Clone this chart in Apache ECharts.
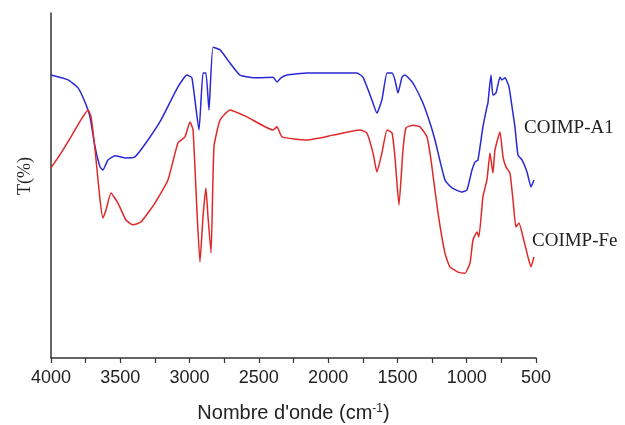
<!DOCTYPE html>
<html>
<head>
<meta charset="utf-8">
<script src="https://cdn.jsdelivr.net/npm/echarts@6/dist/echarts.min.js"></script>
<style>
  html, body { margin: 0; padding: 0; background: #fff; }
  #chart { width: 625px; height: 425px; }
</style>
</head>
<body>
<div id="chart"></div>
<script>
// wavenumber (cm-1) and transmittance (arbitrary %)
const wavenumbersA1 = [4000, 3877, 3805, 3755, 3719, 3682, 3646, 3625, 3589, 3538, 3466, 3394, 3300, 3206, 3084, 3019, 2983, 2932, 2903, 2882, 2860, 2831, 2780, 2708, 2636, 2513, 2398, 2369, 2340, 2297, 2153, 1915, 1792, 1749, 1684, 1648, 1612, 1575, 1539, 1518, 1496, 1467, 1446, 1388, 1316, 1265, 1229, 1157, 1106, 1034, 998, 962, 940, 919, 883, 854, 847, 825, 811, 789, 760, 746, 724, 695, 673, 652, 630, 601, 565, 536, 515];
const transA1 = [82.0, 80.6, 78.3, 74.2, 69.9, 61.2, 55.4, 54.5, 57.4, 58.6, 58.0, 58.3, 63.2, 69.0, 78.6, 82.0, 81.2, 66.1, 82.6, 82.6, 71.9, 90.1, 89.3, 85.5, 82.0, 81.2, 81.4, 80.0, 81.2, 82.0, 82.6, 82.6, 82.6, 81.4, 74.8, 71.0, 74.8, 82.6, 82.6, 80.6, 76.8, 81.4, 82.0, 79.7, 73.9, 68.1, 63.2, 51.6, 49.3, 48.1, 48.7, 54.5, 56.8, 57.4, 67.0, 72.8, 73.9, 82.0, 76.2, 76.8, 81.4, 80.6, 81.2, 78.6, 72.8, 67.0, 58.8, 57.4, 53.9, 49.6, 51.6];

const wavenumbersFe = [4000, 3928, 3856, 3784, 3733, 3711, 3682, 3646, 3625, 3603, 3567, 3517, 3459, 3408, 3351, 3250, 3156, 3084, 3033, 2997, 2975, 2946, 2925, 2903, 2882, 2867, 2845, 2824, 2780, 2708, 2586, 2398, 2369, 2333, 2153, 1965, 1770, 1720, 1676, 1648, 1612, 1575, 1539, 1518, 1489, 1460, 1438, 1388, 1337, 1287, 1265, 1251, 1207, 1157, 1121, 1063, 1013, 976, 955, 926, 912, 883, 854, 832, 811, 796, 760, 738, 717, 688, 666, 645, 623, 594, 558, 536, 515];
const transFe = [55.1, 59.4, 64.1, 69.0, 71.9, 69.9, 60.3, 45.8, 40.6, 42.9, 47.8, 44.9, 40.0, 38.6, 39.4, 44.9, 51.6, 62.3, 64.1, 68.4, 66.1, 42.0, 27.8, 40.9, 49.3, 40.9, 30.4, 61.2, 69.0, 71.9, 69.9, 66.1, 67.0, 64.1, 63.2, 64.6, 66.1, 65.2, 59.4, 53.9, 59.4, 66.1, 65.2, 58.3, 44.3, 60.3, 66.7, 67.5, 67.0, 64.1, 59.4, 55.4, 42.0, 30.4, 26.4, 24.9, 24.6, 27.5, 34.2, 36.5, 35.1, 46.7, 51.6, 59.4, 53.6, 60.3, 65.5, 58.3, 55.4, 53.6, 45.8, 38.0, 39.1, 35.1, 29.3, 26.4, 29.3];

const seriesNames = ['COIMP-A1', 'COIMP-Fe'];
const xTicks = [4000, 3500, 3000, 2500, 2000, 1500, 1000, 500];

const pairs = (xs, ys) => xs.map((x, i) => [x, ys[i]]);

const chart = echarts.init(document.getElementById('chart'), null, { renderer: 'canvas' });

const tickStyle = { color: '#333', width: 1.2 };
const labelFont = { fontFamily: 'Liberation Serif', fontSize: 19, fill: '#222' };

chart.setOption({
  backgroundColor: '#fff',
  animation: false,
  grid: { left: 51, right: 89, top: 13, bottom: 67, outerBoundsMode: 'none' },
  xAxis: {
    type: 'value',
    inverse: true,
    min: xTicks[xTicks.length - 1],
    max: xTicks[0],
    interval: 500,
    axisLine: { lineStyle: { color: '#333', width: 1.5 } },
    axisTick: { length: 5, lineStyle: tickStyle },
    minorTick: { show: true, splitNumber: 2, length: 5, lineStyle: tickStyle },
    splitLine: { show: false },
    axisLabel: {
      fontFamily: 'Liberation Sans', fontSize: 18, color: '#222', margin: 11,
      formatter: v => String(v)
    },
    name: "Nombre d'onde (cm{sup|-1})",
    nameLocation: 'middle',
    nameGap: 45,
    nameTextStyle: {
      fontFamily: 'Liberation Sans', fontSize: 20, color: '#222',
      rich: { sup: { fontFamily: 'Liberation Sans', fontSize: 12, verticalAlign: 'top', padding: [0, 0, 9, 0], color: '#222' } }
    }
  },
  yAxis: {
    type: 'value',
    min: 0,
    max: 100,
    axisLine: { show: true, lineStyle: { color: '#333', width: 1.5 } },
    axisTick: { show: false },
    axisLabel: { show: false },
    splitLine: { show: false }
  },
  graphic: [
    {
      type: 'text', x: 25, y: 176, rotation: Math.PI / 2,
      style: Object.assign({ text: 'T(%)', textAlign: 'center', textVerticalAlign: 'middle' }, labelFont, { fontSize: 18 })
    },
    { type: 'text', left: 524, top: 119, style: Object.assign({ text: seriesNames[0] }, labelFont) },
    { type: 'text', left: 532, top: 232, style: Object.assign({ text: seriesNames[1] }, labelFont) }
  ],
  series: [
    {
      name: seriesNames[0],
      type: 'line',
      data: pairs(wavenumbersA1, transA1),
      showSymbol: false,
      smooth: 0.15,
      lineStyle: { color: '#2828d4', width: 1.5 }
    },
    {
      name: seriesNames[1],
      type: 'line',
      data: pairs(wavenumbersFe, transFe),
      showSymbol: false,
      smooth: 0.15,
      lineStyle: { color: '#e02828', width: 1.5 }
    }
  ]
});
</script>
</body>
</html>
